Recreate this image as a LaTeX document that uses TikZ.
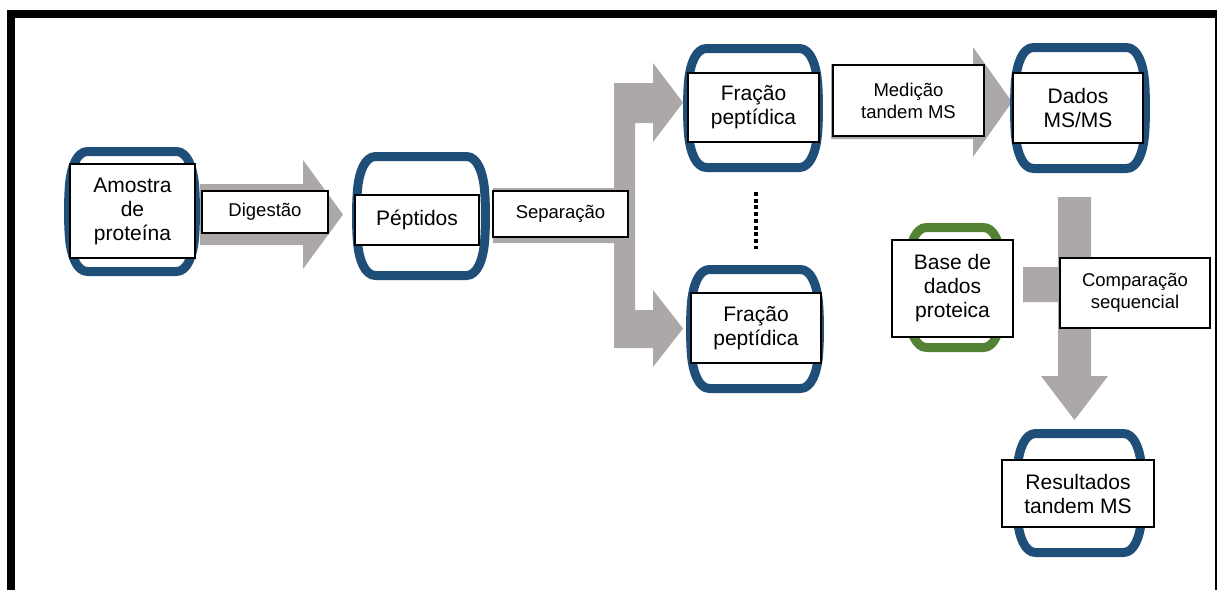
\documentclass[tikz,border=0pt]{standalone}
\usepackage{fontspec}
\setmainfont{Liberation Sans}
\definecolor{arrowgray}{HTML}{ABA8A7}
\definecolor{canblue}{HTML}{1F4E79}
\definecolor{cangreen}{HTML}{548235}
\newcommand{\canshape}[5]{%
  \pgfmathsetmacro\cL{#1+3.6}\pgfmathsetmacro\cR{#3-3.6}%
  \pgfmathsetmacro\cT{#2+4.5}\pgfmathsetmacro\cB{#4-4.5}%
  \draw[line width=9pt, #5, line join=round]
    (\cL+20,\cT) -- (\cR-20,\cT)
    .. controls (\cR-9,\cT) and (\cR-3.6,\cT+16) .. (\cR-2,\cT+32)
    .. controls (\cR-0.6,\cT+46) and (\cR-0.6,\cB-46) .. (\cR-2,\cB-32)
    .. controls (\cR-3.6,\cB-16) and (\cR-9,\cB) .. (\cR-20,\cB)
    -- (\cL+20,\cB)
    .. controls (\cL+9,\cB) and (\cL+3.6,\cB-16) .. (\cL+2,\cB-32)
    .. controls (\cL+0.6,\cB-46) and (\cL+0.6,\cT+46) .. (\cL+2,\cT+32)
    .. controls (\cL+3.6,\cT+16) and (\cL+9,\cT) .. cycle;
}
\begin{document}
\begin{tikzpicture}[x=1pt,y=-1pt,
  box/.style={draw=black, line width=1.3pt, fill=white, align=center, inner sep=0pt,
    font=\fontsize{21}{24}\selectfont},
  lbl/.style={box, font=\fontsize{18.5}{22}\selectfont},
  garrow/.style={fill=arrowgray}]
\useasboundingbox (0,0) rectangle (1218,590);
\fill[white] (0,0) rectangle (1218,590);
% frame
\fill[black] (7,10) rectangle (1217,18);
\fill[black] (7,10) rectangle (15,590);
\fill[black] (1214.5,10) rectangle (1217,590);
% gray block arrows
\fill[garrow] (200,184) -- (303,184) -- (303,160) -- (343,214.5) -- (303,269) -- (303,245) -- (200,245) -- cycle;
\fill[garrow] (493,188) -- (614,188) -- (614,83) -- (653,83) -- (653,63) -- (683,102.5) -- (653,142) -- (653,123)
  -- (635,123) -- (635,310) -- (653,310) -- (653,290) -- (683,328.5) -- (653,367) -- (653,348)
  -- (614,348) -- (614,243) -- (493,243) -- cycle;
\fill[garrow] (831,64) -- (973,64) -- (973,47) -- (1012,102) -- (973,157) -- (973,139) -- (831,139) -- cycle;
\fill[garrow] (1058,197) -- (1091,197) -- (1091,376) -- (1108,376) -- (1074.5,420) -- (1041,376) -- (1058,376)
  -- (1058,302) -- (1023,302) -- (1023,267) -- (1058,267) -- cycle;
% dotted line
\draw[line width=4pt, dash pattern=on 4pt off 2.7pt] (756,192) -- (756,249);
% can shapes
\canshape{64}{147}{200}{276}{canblue}
\canshape{352}{152}{490}{280}{canblue}
\canshape{683}{44}{823}{172}{canblue}
\canshape{686}{265}{824}{393}{canblue}
\canshape{1010}{43}{1150}{173}{canblue}
\canshape{903}{223}{1007}{352}{cangreen}
\canshape{1012}{429}{1147}{557}{canblue}
% boxes
\node[box, minimum width=125pt, minimum height=94pt] (amostra) at (132.5,211) {Amostra\\de\\proteína};
\node[lbl, minimum width=126pt, minimum height=42pt] (digestao) at (265,212) {Digestão};
\node[box, minimum width=124pt, minimum height=50pt] (peptidos) at (417,220) {Péptidos};
\node[lbl, minimum width=135pt, minimum height=46pt] (separacao) at (560.5,214) {Separação};
\node[box, minimum width=131pt, minimum height=69pt] (fracao1) at (753.5,107.5) {Fração\\peptídica};
\node[box, minimum width=130pt, minimum height=70pt] (fracao2) at (756,328) {Fração\\peptídica};
\node[lbl, minimum width=151pt, minimum height=71pt] (medicao) at (908.5,100.5) {Medição\\tandem MS};
\node[box, minimum width=130pt, minimum height=70pt] (dados) at (1078,108) {Dados\\MS/MS};
\node[box, minimum width=121pt, minimum height=97pt] (base) at (952.5,288.5) {Base de\\dados\\proteica};
\node[lbl, minimum width=150pt, minimum height=70pt] (comparacao) at (1135,293) {Comparação\\sequencial};
\node[box, minimum width=152pt, minimum height=67pt] (resultados) at (1078,493.5) {Resultados\\tandem MS};
\end{tikzpicture}
\end{document}
